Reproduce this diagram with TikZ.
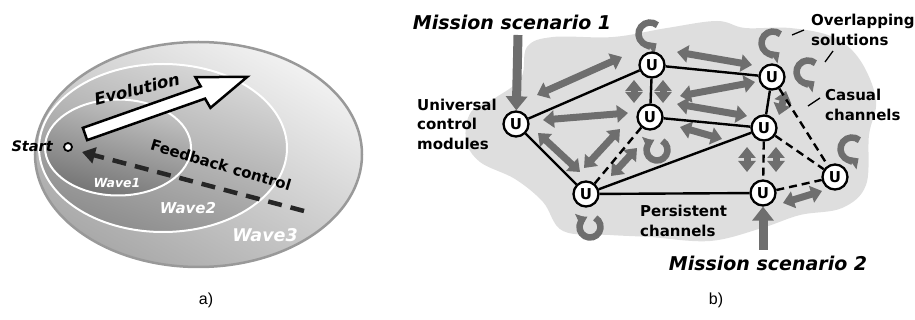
\documentclass[tikz,border=0pt]{standalone}
\usepackage{fontspec}
\setmainfont{DejaVu Sans}
\newfontfamily\capfont{Liberation Sans}
\usetikzlibrary{arrows.meta,shapes.geometric}
\definecolor{arrgray}{HTML}{6E6E6E}
\definecolor{cloudgray}{HTML}{DEDEDE}
\begin{document}
\begin{tikzpicture}[x=1pt,y=-1pt,
  unode/.style={circle,draw=black,line width=2.3pt,fill=white,minimum size=25pt,inner sep=0pt,font=\bfseries\fontsize{15}{15}\selectfont},
  solidedge/.style={line width=2.4pt,black},
  dashedge/.style={line width=2.4pt,black,dash pattern=on 8pt off 5pt},
  garrow/.style={line width=7pt,draw=arrgray,{Triangle[width=17pt,length=11pt]}-{Triangle[width=17pt,length=11pt]}},
  marrow/.style={line width=9pt,draw=arrgray,-{Triangle[width=21pt,length=14pt]}},
  loopst/.style={line width=6.5pt,draw=arrgray,-{Triangle[width=15pt,length=8pt]}},
  lbl/.style={font=\bfseries\fontsize{15}{19.5}\selectfont,align=left,inner sep=0pt},
  mlbl/.style={font=\bfseries\itshape\fontsize{19}{22}\selectfont,inner sep=0pt},
  wlbl/.style={text=white,inner sep=0pt},
  leader/.style={line width=1.3pt,black},
  captxt/.style={font=\capfont\fontsize{16}{18}\selectfont,inner sep=0pt}
]
\useasboundingbox (0,0) rectangle (915,320);

% ---------------- a) ----------------
\fill[top color=white!95!black,bottom color=white!66!black,shading angle=-30]
  (198.5,154.5) ellipse[x radius=163.5pt,y radius=112.5pt];
\draw[line width=2.5pt,draw=white!60!black] (198.5,154.5) ellipse[x radius=163.5pt,y radius=112.5pt];
\shade[top color=white!85!black,bottom color=white!55!black,shading angle=-20]
  (163,148) ellipse[x radius=124pt,y radius=84pt];
\draw[line width=2pt,white] (163,148) ellipse[x radius=124pt,y radius=84pt];
\shade[top color=white!78!black,bottom color=white!45!black,shading angle=-15]
  (118,147.5) ellipse[x radius=73pt,y radius=48pt];
\draw[line width=2pt,white] (118,147.5) ellipse[x radius=73pt,y radius=48pt];

\node[wlbl,font=\bfseries\itshape\fontsize{12.5}{12}\selectfont] (w1) at (117,183) {Wave1};
\node[wlbl,font=\bfseries\itshape\fontsize{15}{15}\selectfont] (w2) at (188,208) {Wave2};
\node[wlbl,font=\bfseries\itshape\fontsize{17.5}{17}\selectfont] (w3) at (265,235) {Wave3};

% evolution arrow
\begin{scope}[shift={(85,134)},rotate=19.4]
  \draw[fill=white,line width=2.5pt,line join=miter]
    (0,-6.5) -- (125,-6.5) -- (123,-17) -- (172,0) -- (127,17) -- (125,6.5) -- (0,6.5) -- cycle;
\end{scope}
\node[font=\bfseries\itshape\fontsize{16.5}{16}\selectfont,rotate=14,inner sep=0pt] (evo) at (137,89) {Evolution};

% start
\node[circle,draw=black,line width=1.8pt,fill=white,minimum size=8pt,inner sep=0pt] (st) at (68,147) {};
\node[font=\bfseries\itshape\fontsize{14.5}{14}\selectfont,inner sep=0pt,anchor=east] (stlbl) at (53,146) {Start};

% feedback
\coordinate (fbtip) at (82,152);
\coordinate (fbend) at (304,211);
\draw[line width=4.5pt,draw=black!85,dash pattern=on 14pt off 9pt,-{Triangle[width=16pt,length=13pt]}] (fbend) -- (fbtip);
\node[font=\bfseries\fontsize{15}{15}\selectfont,rotate=-16.5,inner sep=0pt] (fb) at (221,165) {Feedback control};

\node[captxt] (capa) at (206,300) {a)};

% ---------------- b) ----------------
\fill[cloudgray] plot[smooth cycle,tension=0.6] coordinates {
 (527,47) (553,37) (613,37) (667,28) (717,21) (745,28) (790,28) (833,37) (860,60)
 (876,100) (869,135) (866,185) (842,208) (800,215) (762,228) (710,241) (650,237)
 (610,235) (563,231) (543,202) (515,179) (480,162) (466,140) (471,112) (495,98) (521,78)};

% gray double arrows
\draw[garrow] (537,95) -- (622,57);
\draw[garrow] (543,120) -- (628,113);
\draw[garrow] (538,133) -- (580,172);
\draw[garrow] (584,168) -- (620,129);
\draw[garrow] (611,176) -- (637,148);
\draw[garrow] (634,80) -- (634,103);
\draw[garrow] (663,80) -- (663,103);
\draw[garrow] (677,52) -- (752,65);
\draw[garrow] (680,96) -- (755,82);
\draw[garrow] (677,104) -- (747,116);
\draw[garrow] (680,127) -- (722,139);
\draw[garrow] (786,91) -- (779,115);
\draw[garrow] (747,147) -- (747,172);
\draw[garrow] (776,147) -- (776,172);
\draw[garrow] (783,203) -- (822,191);

% self loops
\draw[loopst] (650,34) ++(50:11.5pt) arc[start angle=50,end angle=305,radius=11.5pt];
\draw[loopst] (773,43) ++(50:11.5pt) arc[start angle=50,end angle=305,radius=11.5pt];
\draw[loopst] (808,72) ++(50:11.5pt) arc[start angle=50,end angle=305,radius=11.5pt];
\draw[loopst] (852,149) ++(50:11.5pt) arc[start angle=50,end angle=305,radius=11.5pt];
\draw[loopst] (657,150) ++(60:10.5pt) arc[start angle=60,end angle=-245,radius=10.5pt];
\draw[loopst] (590,227) ++(60:10.5pt) arc[start angle=60,end angle=-245,radius=10.5pt];

% nodes
\node[unode] (U1) at (516,124) {U};
\node[unode] (U2) at (652,65) {U};
\node[unode] (U3) at (650,117) {U};
\node[unode] (U4) at (586,194) {U};
\node[unode] (U5) at (772,77) {U};
\node[unode] (U6) at (764,128) {U};
\node[unode] (U7) at (763,193) {U};
\node[unode] (U8) at (835,177) {U};

% edges
\draw[solidedge] (U1) -- (U2);
\draw[solidedge] (U1) -- (U4);
\draw[solidedge] (U2) -- (U3);
\draw[solidedge] (U2) -- (U5);
\draw[solidedge] (U3) -- (U6);
\draw[solidedge] (U4) -- (U6);
\draw[solidedge] (U4) -- (U7);
\draw[solidedge] (U5) -- (U6);
\draw[dashedge] (U3) -- (U4);
\draw[dashedge] (U5) -- (U8);
\draw[dashedge] (U6) -- (U8);
\draw[dashedge] (U6) -- (U7);
\draw[dashedge] (U7) -- (U8);

% mission arrows
\coordinate (M1) at (518,35);
\coordinate (M2) at (763,250);
\draw[marrow] (M1) -- (U1);
\draw[marrow] (M2) -- (U7);

% labels
\node[mlbl] (ms1) at (512,22) {Mission scenario 1};
\node[mlbl] (ms2) at (768,263) {Mission scenario 2};
\node[lbl,anchor=west] (ucm) at (417,124) {Universal\\control\\modules};
\node[lbl,anchor=west] (ovl) at (811,30) {Overlapping\\solutions};
\node[lbl,anchor=west] (cas) at (825,105) {Casual\\channels};
\node[lbl,anchor=west] (per) at (640,221) {Persistent\\channels};

% leader lines
\coordinate (l1a) at (792,35); \coordinate (l1b) at (804,30);
\coordinate (l2a) at (825,62); \coordinate (l2b) at (833,51);
\coordinate (l3a) at (808,106); \coordinate (l3b) at (820,98);
\draw[leader] (l1a) -- (l1b);
\draw[leader] (l2a) -- (l2b);
\draw[leader] (l3a) -- (l3b);

\node[captxt] (capb) at (716,300) {b)};
\end{tikzpicture}
\end{document}
